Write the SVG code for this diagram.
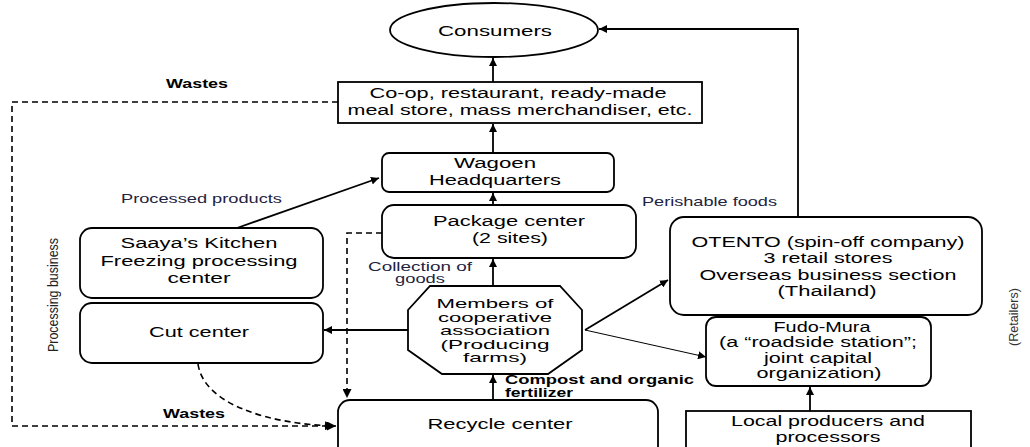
<svg xmlns="http://www.w3.org/2000/svg" width="1030" height="447" viewBox="0 0 1030 447">
<defs>
<marker id="ah" viewBox="0 0 10 10" refX="10" refY="5" markerWidth="8" markerHeight="8" markerUnits="userSpaceOnUse" orient="auto">
<path d="M0,0 L10,5 L0,10 z" fill="#000"/>
</marker>
<marker id="ahs" viewBox="0 0 10 10" refX="10" refY="5" markerWidth="9" markerHeight="9" markerUnits="userSpaceOnUse" orient="auto">
<path d="M0,0 L10,5 L0,10 z" fill="#000"/>
</marker>
</defs>
<style>
text{font-family:"Liberation Sans",Arial,sans-serif;fill:#000}
.t{font-size:14px;text-anchor:middle}
.o{font-size:13px;text-anchor:middle}
.b{font-size:13px;font-weight:bold}
.l{font-size:13px;fill:#23233f}
.box{fill:#fff;stroke:#000;stroke-width:1.8}
.c{fill:none;stroke:#000;stroke-width:1.8}
.thin{fill:none;stroke:#000;stroke-width:1}
.d{fill:none;stroke:#000;stroke-width:1.6;stroke-dasharray:6,4}
.v{font-size:14px;fill:#222}
</style>
<rect width="1030" height="447" fill="#fff"/>

<g id="connectors">
<line class="c" x1="493" y1="82" x2="493" y2="58" marker-end="url(#ah)"/>
<line class="c" x1="493" y1="153" x2="493" y2="124" marker-end="url(#ah)"/>
<line class="c" x1="493" y1="205" x2="493" y2="193" marker-end="url(#ah)"/>
<line class="c" x1="493" y1="286" x2="493" y2="259" marker-end="url(#ah)"/>
<line class="c" x1="493" y1="400" x2="493" y2="375" marker-end="url(#ah)"/>
<line class="c" x1="408" y1="330" x2="324" y2="330" marker-end="url(#ah)"/>
<line class="c" x1="237" y1="228" x2="379" y2="178" marker-end="url(#ah)"/>
<path class="c" d="M798,217 V29 H599" marker-end="url(#ah)"/>
<line class="c" x1="585" y1="330" x2="668" y2="280" marker-end="url(#ah)"/>
<line class="thin" x1="585" y1="330" x2="706" y2="357" marker-end="url(#ah)"/>
<line class="c" x1="810" y1="411" x2="810" y2="387" marker-end="url(#ah)"/>
<path class="d" d="M338,102 H12 V426 H336" marker-end="url(#ahs)"/>
<path class="d" d="M198,364 C204,405 270,424 334,426" marker-end="url(#ahs)"/>
<path class="d" d="M382,233 H347 V398" marker-end="url(#ahs)"/>
</g>

<g id="consumers">
<ellipse class="box" cx="494" cy="30" rx="104" ry="27"/>
<text class="t" x="495" y="36" textLength="114" lengthAdjust="spacingAndGlyphs">Consumers</text>
</g>

<g id="coop">
<rect class="box" x="338" y="82" width="364" height="41"/>
<text class="t" x="518" y="98" textLength="297" lengthAdjust="spacingAndGlyphs">Co-op, restaurant, ready-made</text>
<text class="t" x="520" y="115" textLength="345" lengthAdjust="spacingAndGlyphs">meal store, mass merchandiser, etc.</text>
</g>

<g id="wagoen">
<rect class="box" x="382" y="153" width="232" height="39" rx="7"/>
<text class="t" x="495" y="168" textLength="82" lengthAdjust="spacingAndGlyphs">Wagoen</text>
<text class="t" x="495" y="185" textLength="132" lengthAdjust="spacingAndGlyphs">Headquarters</text>
</g>

<g id="package">
<rect class="box" x="382" y="205" width="254" height="53" rx="12"/>
<text class="t" x="509" y="226" textLength="152" lengthAdjust="spacingAndGlyphs">Package center</text>
<text class="t" x="510" y="243" textLength="76" lengthAdjust="spacingAndGlyphs">(2 sites)</text>
</g>

<g id="saaya">
<rect class="box" x="80" y="228" width="243" height="70" rx="12"/>
<text class="t" x="199" y="248" textLength="157" lengthAdjust="spacingAndGlyphs">Saaya’s Kitchen</text>
<text class="t" x="199" y="266" textLength="197" lengthAdjust="spacingAndGlyphs">Freezing processing</text>
<text class="t" x="199" y="283" textLength="63" lengthAdjust="spacingAndGlyphs">center</text>
</g>

<g id="cut">
<rect class="box" x="80" y="303" width="243" height="60" rx="12"/>
<text class="t" x="199" y="337" textLength="100" lengthAdjust="spacingAndGlyphs">Cut center</text>
</g>

<g id="members">
<polygon class="box" points="430,286 560,286 582,310 582,350 548,374 442,374 408,350 408,310"/>
<text class="o" x="495" y="308" textLength="117" lengthAdjust="spacingAndGlyphs">Members of</text>
<text class="o" x="495" y="321.5" textLength="114" lengthAdjust="spacingAndGlyphs">cooperative</text>
<text class="o" x="495" y="335" textLength="110" lengthAdjust="spacingAndGlyphs">association</text>
<text class="o" x="495" y="348.5" textLength="109" lengthAdjust="spacingAndGlyphs">(Producing</text>
<text class="o" x="495" y="362" textLength="64" lengthAdjust="spacingAndGlyphs">farms)</text>
</g>

<g id="recycle">
<rect class="box" x="338" y="400" width="320" height="60" rx="12"/>
<text class="t" x="500" y="429" textLength="145" lengthAdjust="spacingAndGlyphs">Recycle center</text>
</g>

<g id="otento">
<rect class="box" x="670" y="217" width="312" height="98" rx="14"/>
<text class="t" x="828" y="247" textLength="273" lengthAdjust="spacingAndGlyphs">OTENTO (spin-off company)</text>
<text class="t" x="828" y="263" textLength="129" lengthAdjust="spacingAndGlyphs">3 retail stores</text>
<text class="t" x="828" y="280" textLength="257" lengthAdjust="spacingAndGlyphs">Overseas business section</text>
<text class="t" x="827" y="296" textLength="99" lengthAdjust="spacingAndGlyphs">(Thailand)</text>
</g>

<g id="fudo">
<rect class="box" x="706" y="317" width="225" height="69" rx="10"/>
<text class="t" x="822" y="332" textLength="97" lengthAdjust="spacingAndGlyphs">Fudo-Mura</text>
<text class="t" x="818" y="347" textLength="198" lengthAdjust="spacingAndGlyphs">(a “roadside station”;</text>
<text class="t" x="818" y="363" textLength="108" lengthAdjust="spacingAndGlyphs">joint capital</text>
<text class="t" x="819" y="378" textLength="125" lengthAdjust="spacingAndGlyphs">organization)</text>
</g>

<g id="local">
<rect class="box" x="686" y="411" width="285" height="50"/>
<text class="t" x="828" y="426" textLength="194" lengthAdjust="spacingAndGlyphs">Local producers and</text>
<text class="t" x="828" y="442" textLength="105" lengthAdjust="spacingAndGlyphs">processors</text>
</g>

<g id="labels">
<text class="b" x="166" y="88" textLength="62" lengthAdjust="spacingAndGlyphs">Wastes</text>
<text class="b" x="163" y="418" textLength="62" lengthAdjust="spacingAndGlyphs">Wastes</text>
<text class="l" x="121" y="203" textLength="161" lengthAdjust="spacingAndGlyphs">Processed products</text>
<text class="l" x="642" y="206" textLength="135" lengthAdjust="spacingAndGlyphs">Perishable foods</text>
<text class="l" x="368" y="271" textLength="104" lengthAdjust="spacingAndGlyphs" style="font-size:12px">Collection of</text>
<text class="l" x="395" y="283" textLength="50" lengthAdjust="spacingAndGlyphs" style="font-size:12px">goods</text>
<text class="b" x="505" y="384" textLength="189" lengthAdjust="spacingAndGlyphs">Compost and organic</text>
<text class="b" x="505" y="397" textLength="68" lengthAdjust="spacingAndGlyphs">fertilizer</text>
<text class="v" x="0" y="0" text-anchor="middle" transform="translate(58,295) rotate(-90)" textLength="114" lengthAdjust="spacingAndGlyphs">Processing business</text>
<text class="v" x="0" y="0" text-anchor="middle" transform="translate(1018,317) rotate(-90)" textLength="58" lengthAdjust="spacingAndGlyphs" style="font-size:12px;fill:#333">(Retailers)</text>
</g>
</svg>
